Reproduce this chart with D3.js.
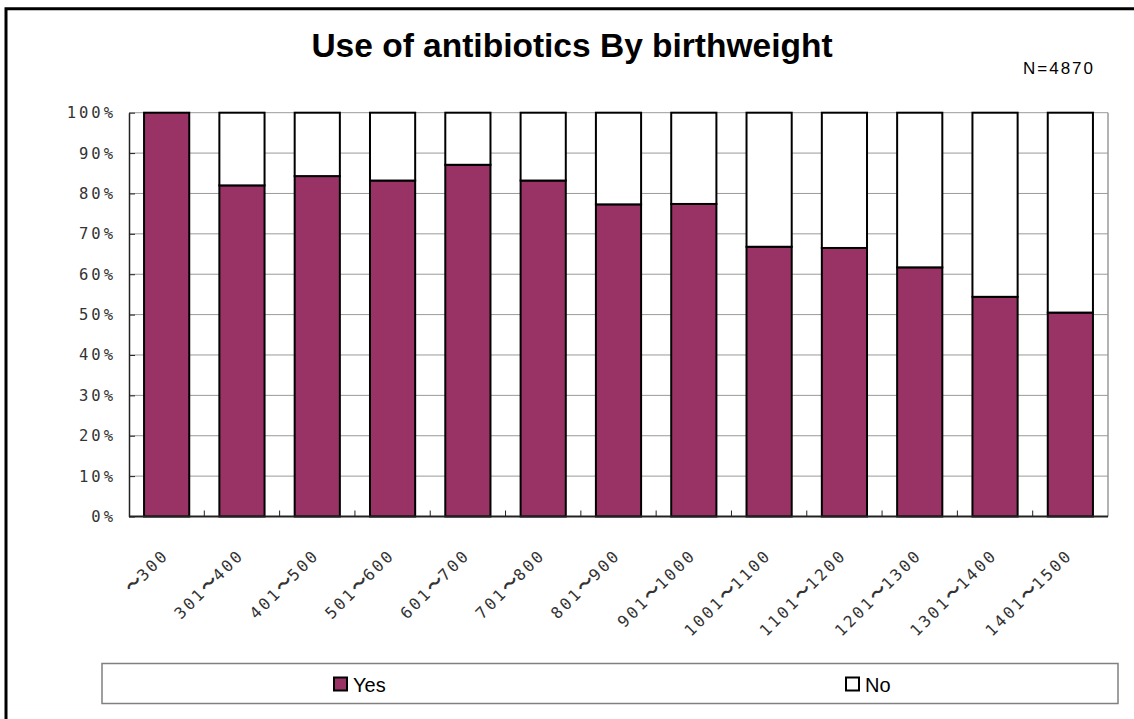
<!DOCTYPE html>
<html><head><meta charset="utf-8">
<script src="https://cdn.jsdelivr.net/npm/d3@7"></script>
<style>html,body{margin:0;background:#fff;overflow:hidden}svg{display:block}</style>
</head><body>
<script>
const categories = ["～300","301～400","401～500","501～600","601～700","701～800","801～900","901～1000","1001～1100","1101～1200","1201～1300","1301～1400","1401～1500"];
const yesValues = [100, 82.0, 84.3, 83.2, 87.1, 83.2, 77.3, 77.4, 66.8, 66.5, 61.7, 54.4, 50.5];
const noValues  = [0, 18.0, 15.7, 16.8, 12.9, 16.8, 22.7, 22.6, 33.2, 33.5, 38.3, 45.6, 49.5];
const seriesNames = ["Yes","No"];
const seriesColors = ["#993366","#ffffff"];
const yTicks = [0,10,20,30,40,50,60,70,80,90,100];
const titleText = "Use of antibiotics By birthweight";
const noteText = "N=4870";

const W = 1134, H = 719;
const svg = d3.select("body").append("svg").attr("width", W).attr("height", H);

// outer frame: only top and left edges are inside the picture
svg.append("path").attr("d", `M6,${H} V8.7 H${W}`)
  .attr("fill", "none").attr("stroke", "#000").attr("stroke-width", 3);

const L = 129, R = 1108, T = 112.7, B = 516.5;
const x = d3.scaleBand().domain(categories).range([L, R]).paddingInner(0.4).paddingOuter(0.2);
const y = d3.scaleLinear().domain([0, 100]).range([B, T]);

const monoFont = "'DejaVu Sans Mono',monospace";
const cjkFont = "'Noto Sans CJK JP',sans-serif";

// gridlines
svg.append("g").selectAll("line").data(yTicks.filter(d => d > 0)).join("line")
  .attr("x1", L).attr("x2", R).attr("y1", d => y(d)).attr("y2", d => y(d))
  .attr("stroke", "#9a9a9a").attr("stroke-width", 1);
svg.append("line").attr("x1", R).attr("x2", R).attr("y1", T).attr("y2", B)
  .attr("stroke", "#9a9a9a").attr("stroke-width", 1.5);

// stacked bars
const table = categories.map((c, i) => ({cat: c, Yes: yesValues[i], No: noValues[i]}));
const stacked = d3.stack().keys(seriesNames)(table);
svg.append("g").selectAll("g").data(stacked).join("g")
  .attr("fill", (d, i) => seriesColors[i])
  .selectAll("rect").data(d => d.filter(p => p[1] - p[0] > 0)).join("rect")
  .attr("x", d => x(d.data.cat)).attr("width", x.bandwidth())
  .attr("y", d => y(d[1])).attr("height", d => y(d[0]) - y(d[1]))
  .attr("stroke", "#000").attr("stroke-width", 2);

// y axis
const yAxis = d3.axisLeft(y).tickValues(yTicks).tickFormat(d => d + "%").tickSizeInner(-6).tickSizeOuter(0).tickPadding(13);
const gy = svg.append("g").attr("transform", `translate(${L},0)`).call(yAxis);
gy.select(".domain").attr("stroke", "#222").attr("stroke-width", 1.5);
gy.selectAll(".tick line").attr("stroke", "#222");
gy.selectAll("text").attr("font-family", monoFont).attr("font-size", 15.5)
  .attr("letter-spacing", "3px").attr("fill", "#333");

// x axis: ticks at category boundaries, pointing inward
const boundaries = categories.slice(1).map(c => x(c) - x.step() * x.paddingInner() / 2);
svg.append("g").selectAll("line").data(boundaries).join("line")
  .attr("x1", d => d).attr("x2", d => d).attr("y1", B).attr("y2", B - 6)
  .attr("stroke", "#222");
svg.append("line").attr("x1", L).attr("x2", R).attr("y1", B).attr("y2", B)
  .attr("stroke", "#222").attr("stroke-width", 2);

const xl = svg.append("g").selectAll("text").data(categories).join("text")
  .attr("transform", d => `translate(${x(d) + x.bandwidth() / 2 + 3},556) rotate(-45)`)
  .attr("text-anchor", "end")
  .attr("font-family", monoFont).attr("font-size", 16).attr("letter-spacing", "2.6px")
  .attr("fill", "#333");
xl.each(function(d) {
  const parts = d.split("～");
  const t = d3.select(this);
  t.append("tspan").text(parts[0]);
  t.append("tspan").attr("font-family", cjkFont).attr("font-weight", "bold")
    .attr("font-size", 17).attr("letter-spacing", "0px").text("～");
  t.append("tspan").text(parts[1]);
});

// title
svg.append("text").attr("x", 572).attr("y", 57).attr("text-anchor", "middle")
  .attr("font-family", "'Liberation Sans',Arial,sans-serif").attr("font-weight", "bold")
  .attr("font-size", 33.5).attr("fill", "#000").text(titleText);
svg.append("text").attr("x", 1023).attr("y", 74)
  .attr("font-family", "'Liberation Sans',Arial,sans-serif").attr("font-size", 17)
  .attr("letter-spacing", "2px").attr("fill", "#000").text(noteText);

// legend
svg.append("rect").attr("x", 102).attr("y", 663.5).attr("width", 1016).attr("height", 40)
  .attr("fill", "#fff").attr("stroke", "#808080").attr("stroke-width", 1.5);
const legendX = [334, 846];
const lg = svg.append("g").selectAll("g").data(seriesNames).join("g")
  .attr("transform", (d, i) => `translate(${legendX[i]},677.5)`);
lg.append("rect").attr("width", 13).attr("height", 13)
  .attr("fill", (d, i) => seriesColors[i]).attr("stroke", "#000").attr("stroke-width", 2);
lg.append("text").attr("x", 19).attr("y", 14.5)
  .attr("font-family", "'Liberation Sans',Arial,sans-serif").attr("font-size", 20)
  .attr("fill", "#000").text(d => d);
</script>
</body></html>
